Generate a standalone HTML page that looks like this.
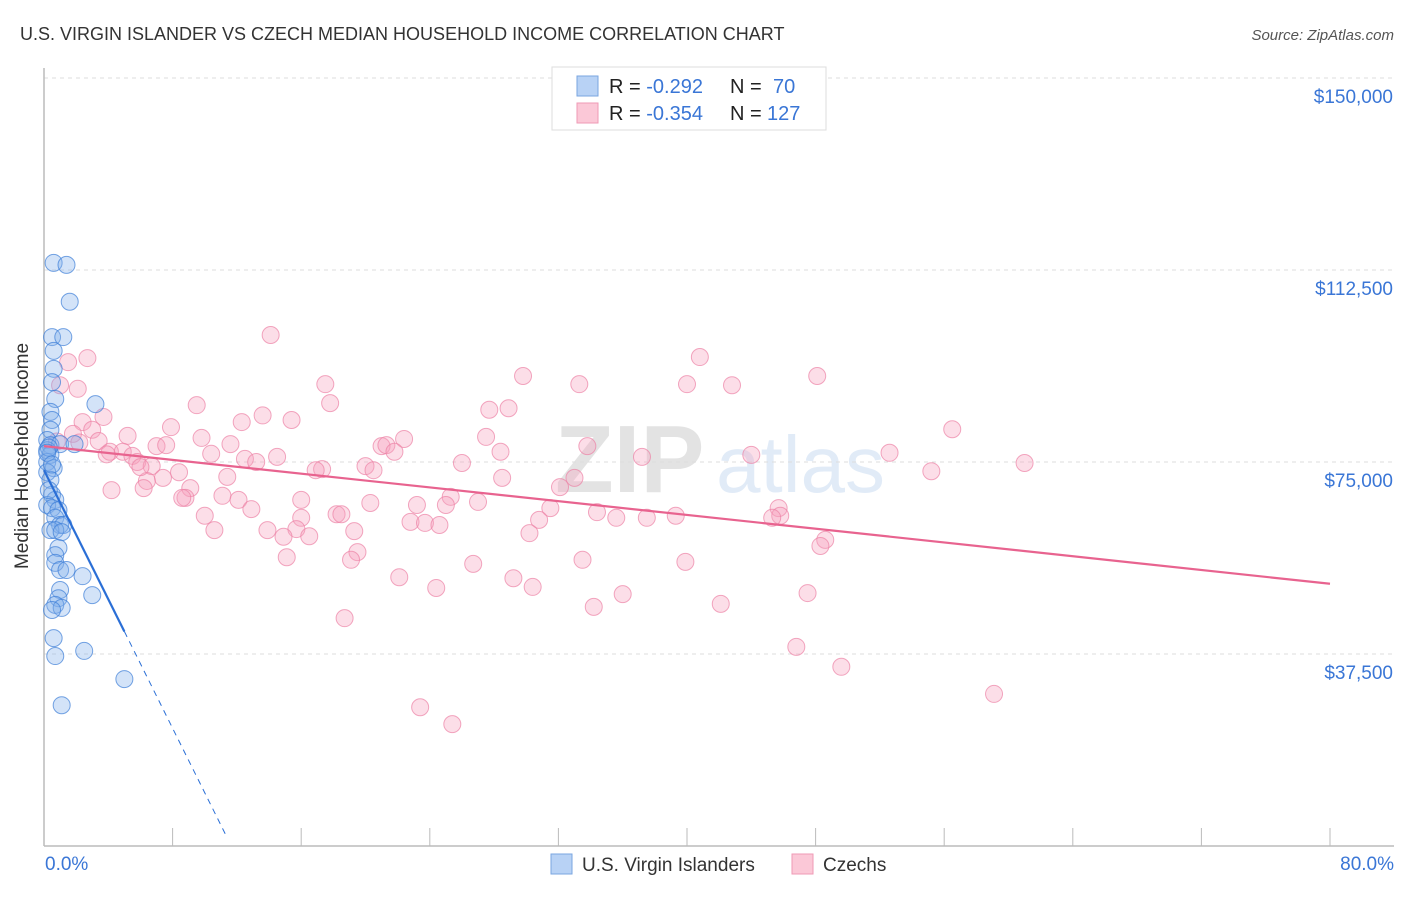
<!DOCTYPE html>
<html><head><meta charset="utf-8"><style>
body{margin:0;background:#fff;font-family:"Liberation Sans",sans-serif;}
svg text{font-family:"Liberation Sans",sans-serif;}
</style></head><body>
<svg id="chart" width="1406" height="892" viewBox="0 0 1406 892">
<text x="20" y="40" font-size="18" fill="#333">U.S. VIRGIN ISLANDER VS CZECH MEDIAN HOUSEHOLD INCOME CORRELATION CHART</text>
<text x="1394" y="40" font-size="15" fill="#555" font-style="italic" text-anchor="end">Source: ZipAtlas.com</text>
<g opacity="0.2">
<text x="555" y="492" font-size="96" font-family="Liberation Serif" fill="#777" font-weight="bold">ZIP</text>
<text x="716" y="492" font-size="80" fill="#6f9fdc">atlas</text>
</g>
<g id="grid"></g>
<g id="axes"></g>
<g id="pts"></g>
<g id="lines"></g>
<text x="28" y="456" font-size="19" fill="#333" text-anchor="middle" transform="rotate(-90 28 456)">Median Household Income</text>
<g>
<rect x="552" y="67" width="274" height="63" fill="#fff" stroke="#ddd"/>
<rect x="577" y="76" width="21" height="20" fill="#b8d2f5" stroke="#7aa6e0"/>
<rect x="577" y="103" width="21" height="20" fill="#fbc8d7" stroke="#ef9ab5"/>
<text x="609" y="93" font-size="20" fill="#222">R = <tspan fill="#3a76d6">-0.292</tspan><tspan x="730">N =</tspan><tspan x="773" fill="#3a76d6">70</tspan></text>
<text x="609" y="120" font-size="20" fill="#222">R = <tspan fill="#3a76d6">-0.354</tspan><tspan x="730">N =</tspan><tspan x="767" fill="#3a76d6">127</tspan></text>
</g>
<g>
<rect x="551" y="854" width="21" height="20" fill="#b8d2f5" stroke="#7aa6e0"/>
<text x="582" y="871" font-size="19" fill="#333">U.S. Virgin Islanders</text>
<rect x="792" y="854" width="21" height="20" fill="#fbc8d7" stroke="#ef9ab5"/>
<text x="823" y="871" font-size="19" fill="#333">Czechs</text>
</g>
</svg>
<script>
const yTicks=[37500,75000,112500,150000];
const yTickLabels=["$37,500","$75,000","$112,500","$150,000"];
const xTickLabels=["0.0%","80.0%"];
const blueX=[0.6,1.4,1.6,0.5,1.2,0.6,0.6,0.5,0.7,3.2,0.4,0.5,0.4,0.2,0.4,1.0,1.9,0.2,0.4,0.2,0.6,0.2,0.4,0.5,0.7,0.2,0.5,0.9,0.7,1.0,1.2,0.4,0.7,1.1,0.9,0.7,0.7,1.0,1.4,2.4,1.0,0.9,0.7,1.1,3.0,0.5,0.6,0.7,2.5,5.0,1.1,0.3,0.2,0.5,0.3];
const blueY=[113.9,113.5,106.3,99.4,99.4,96.7,93.2,90.6,87.3,86.3,84.8,83.2,81.3,79.3,78.3,78.5,78.5,77.3,76.4,75.0,73.8,73.0,71.5,68.6,67.6,66.6,66.0,65.6,64.1,62.7,62.7,61.7,61.7,61.3,58.2,56.8,55.3,53.9,53.9,52.7,50.0,48.4,47.1,46.5,49.0,46.1,40.6,37.1,38.1,32.6,27.5,77.8,76.8,74.5,69.5];
const pinkX=[14.1,40.8,2.7,1.5,48.1,29.8,17.5,33.3,40.0,42.8,1.0,2.1,17.8,9.5,28.9,13.6,3.7,27.7,15.4,12.3,2.4,7.9,56.5,3.0,5.2,22.4,27.5,33.8,21.0,3.4,9.8,11.6,21.3,7.0,7.6,21.8,10.4,4.1,4.9,5.5,28.4,37.2,44.0,52.6,14.5,12.5,13.2,5.8,26.0,61.0,20.0,17.3,16.9,6.7,8.4,20.5,55.2,28.5,33.0,11.4,7.4,6.4,4.2,6.2,9.1,32.1,11.1,8.8,12.1,16.0,25.3,27.0,20.3,23.2,25.0,12.9,31.5,45.7,34.4,35.6,37.5,39.3,45.8,45.3,18.2,18.5,10.0,16.0,30.8,22.8,23.7,24.6,10.6,13.9,15.7,30.2,14.9,16.5,19.3,48.6,48.3,19.5,15.1,19.1,26.7,33.5,39.9,22.1,29.2,24.4,30.4,36.0,47.5,34.2,42.1,18.7,46.8,49.6,59.1,23.4,25.4,1.8,2.2,0.8,3.9,6.0,8.6];
const pinkY=[99.8,95.5,95.3,94.5,91.8,91.8,90.2,90.2,90.2,90.0,90.0,89.3,86.5,86.1,85.5,84.1,83.8,85.2,83.2,82.8,82.8,81.8,81.4,81.3,80.1,79.5,79.9,78.1,78.1,79.1,79.7,78.5,78.3,78.1,78.3,77.0,76.6,77.0,77.0,76.2,77.0,76.0,76.4,76.8,76.0,75.6,75.0,75.0,74.8,74.8,74.2,73.6,73.4,74.2,73.0,73.4,73.2,71.9,71.9,72.1,71.9,71.3,69.5,69.9,69.9,70.1,68.4,68.0,67.6,67.6,68.2,67.2,67.0,66.6,66.6,65.8,66.0,66.0,65.2,64.1,64.1,64.5,64.5,64.1,64.8,64.8,64.5,64.1,63.7,63.3,63.1,62.7,61.7,61.7,61.9,61.1,60.4,60.5,61.5,59.8,58.6,57.4,56.4,55.9,55.1,55.9,55.5,52.5,52.3,50.4,50.6,49.2,49.4,46.7,47.3,44.5,38.9,35.0,29.7,27.1,23.8,80.5,78.8,79.0,76.5,74.0,68.0];
const blueFit=[73.4,-6.3]; const blueSolidEnd=5.0, blueDashEnd=11.4;
const pinkFit=[78.1,-0.336]; const pinkEnd=80;
const NS="http://www.w3.org/2000/svg";
const X0=44,X1=1330,Y0=846,YPX=192/37500;
const xs=p=>X0+p*(X1-X0)/80;
const ys=v=>Y0-v*YPX;
function mk(tag,attrs,parent){const e=document.createElementNS(NS,tag);for(const k in attrs)e.setAttribute(k,attrs[k]);parent.appendChild(e);return e;}
const grid=document.getElementById('grid'),axes=document.getElementById('axes');
yTicks.forEach((t,i)=>{
 const g=mk('line',{x1:X0,x2:1394,y1:ys(t),y2:ys(t),stroke:'#ddd','stroke-dasharray':'4,4'},grid);
 
 
 const tx=mk('text',{x:1393,y:ys(t)+25,'font-size':19,fill:'#3a76d6','text-anchor':'end'},axes);
 tx.textContent=yTickLabels[i];
 
 
});
const topGrid=mk('line',{x1:X0,x2:1394,y1:78,y2:78,stroke:'#ddd','stroke-dasharray':'4,4'},grid);


const ya=mk('line',{x1:X0,x2:X0,y1:68,y2:846,stroke:'#bbb','stroke-width':1.5},axes);


const xa=mk('line',{x1:X0,x2:1394,y1:846,y2:846,stroke:'#bbb','stroke-width':1.5},axes);


for(let i=1;i<=10;i++){const tk=mk('line',{x1:xs(i*8),x2:xs(i*8),y1:828,y2:846,stroke:'#bbb'},axes);
 
 }
const l0=mk('text',{x:45,y:870,'font-size':19,fill:'#3a76d6'},axes);l0.textContent=xTickLabels[0];


const l1=mk('text',{x:1394,y:870,'font-size':19,fill:'#3a76d6','text-anchor':'end'},axes);l1.textContent=xTickLabels[1];


const pts=document.getElementById('pts');
pinkX.forEach((p,i)=>{const c=mk('circle',{cx:xs(p),cy:ys(pinkY[i]*1000),r:8.5,fill:'rgba(246,160,188,0.35)',stroke:'rgba(236,130,165,0.7)','stroke-width':1},pts);
 
 });
blueX.forEach((p,i)=>{const c=mk('circle',{cx:xs(p),cy:ys(blueY[i]*1000),r:8.5,fill:'rgba(130,175,235,0.35)',stroke:'rgba(60,125,215,0.7)','stroke-width':1},pts);
 
 });
const lines=document.getElementById('lines');
const f=(fit,p)=>ys((fit[0]+fit[1]*p)*1000);
const pl=mk('line',{x1:xs(0),y1:f(pinkFit,0),x2:xs(pinkEnd),y2:f(pinkFit,pinkEnd),stroke:'#e8638f','stroke-width':2.2},lines);


const bl=mk('line',{x1:xs(0),y1:f(blueFit,0),x2:xs(blueSolidEnd),y2:f(blueFit,blueSolidEnd),stroke:'#2b6fd6','stroke-width':2.2},lines);


const bd=mk('line',{x1:xs(blueSolidEnd),y1:f(blueFit,blueSolidEnd),x2:xs(blueDashEnd),y2:f(blueFit,blueDashEnd),stroke:'#2b6fd6','stroke-width':1,'stroke-dasharray':'6,5'},lines);


</script>
</body></html>
